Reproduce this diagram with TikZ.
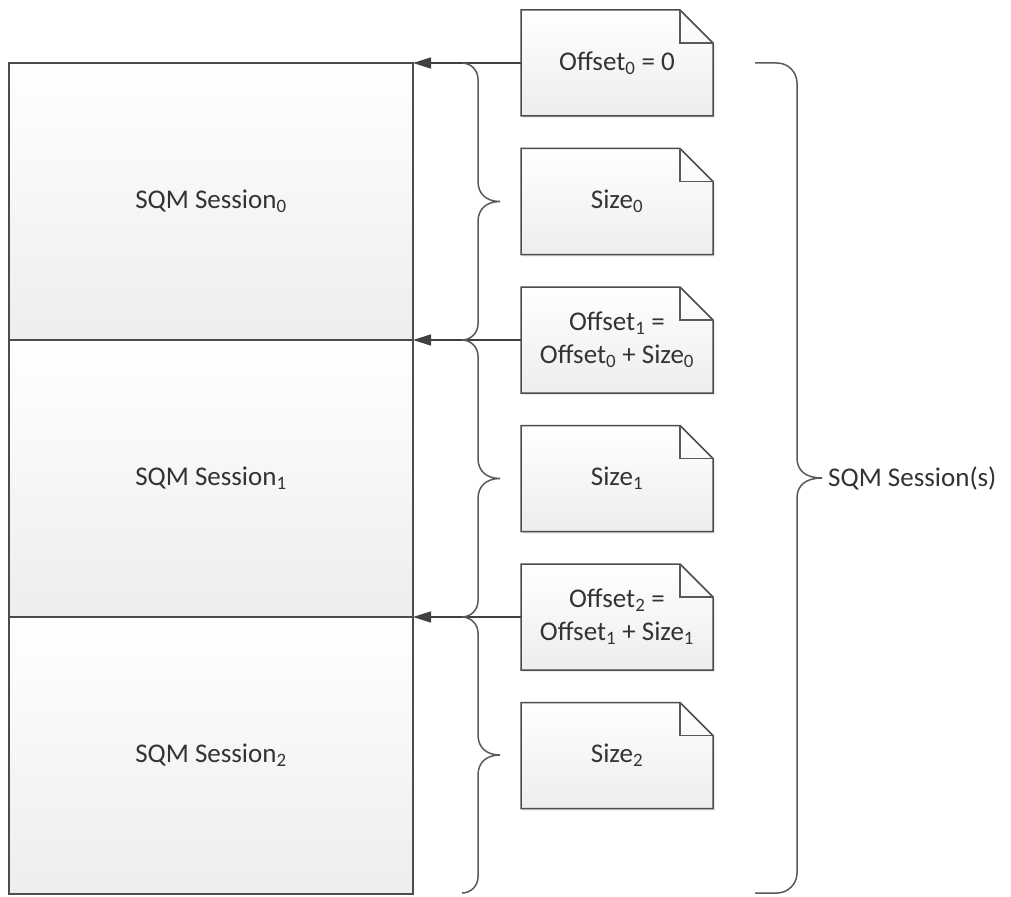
\documentclass[tikz,border=0pt]{standalone}
\usepackage{fontspec}
\setmainfont{Carlito}
\usetikzlibrary{positioning, arrows.meta, backgrounds, shadows}

% curly brace: start x, stem x, tip x, top y, bottom y, corner radius
\newcommand{\sqmbrace}[6]{%
  \pgfmathsetmacro{\bmid}{(#4+#5)/2}%
  \draw[brace] (#1,#4) -- ({#2-#6},#4)
    .. controls ({#2-0.45*#6},#4) and (#2,{#4+0.45*#6}) .. (#2,{#4+#6})
    -- (#2,{\bmid-20})
    .. controls (#2,{\bmid-8}) and ({#2+8},\bmid) .. (#3,\bmid)
    .. controls ({#2+8},\bmid) and (#2,{\bmid+8}) .. (#2,{\bmid+20})
    -- (#2,{#5-#6})
    .. controls (#2,{#5-0.45*#6}) and ({#2-0.45*#6},#5) .. ({#2-#6},#5)
    -- (#1,#5);}

\begin{document}
\begin{tikzpicture}[
  x=1pt, y=-1pt,
  every node/.style={font=\fontsize{27}{33}\selectfont, text=black!80},
  session/.style={draw=black!70, line width=1.5pt, outer sep=0pt, minimum width=404pt, minimum height=277pt, top color=white, bottom color=black!7},
  note/.style={minimum width=192pt, minimum height=106pt, align=center, inner sep=0pt, outer sep=0pt},
  notebody/.style={draw=black!70, line width=1.5pt, top color=white, bottom color=black!7, drop shadow={shadow xshift=2pt, shadow yshift=-2pt, opacity=.15}},
  arrow/.style={-{Triangle[length=18pt,width=11pt]}, draw=black!75, line width=1.5pt},
  brace/.style={draw=black!65, line width=1.5pt}
]
\useasboundingbox (0,0) rectangle (1011,896);

% Sessions
\node[session] (s0) at (211,201.5) {SQM Session\textsubscript{0}};
\node[session, below=0pt of s0] (s1) {SQM Session\textsubscript{1}};
\node[session, below=0pt of s1] (s2) {SQM Session\textsubscript{2}};

% Notes
\node[note, right=108pt of s0.north east] (o0) {Offset\textsubscript{0} = 0};
\node[note, right=108pt of s0.east] (z0) {Size\textsubscript{0}};
\node[note, right=108pt of s1.north east] (o1) {Offset\textsubscript{1} =\\Offset\textsubscript{0} + Size\textsubscript{0}};
\node[note, right=108pt of s1.east] (z1) {Size\textsubscript{1}};
\node[note, right=108pt of s2.north east] (o2) {Offset\textsubscript{2} =\\Offset\textsubscript{1} + Size\textsubscript{1}};
\node[note, right=108pt of s2.east] (z2) {Size\textsubscript{2}};

\begin{scope}[on background layer]
\foreach \n in {o0,z0,o1,z1,o2,z2} {
  \draw[notebody] (\n.north west) -- ([xshift=-33pt]\n.north east) -- ([yshift=-33pt]\n.north east) -- (\n.south east) -- (\n.south west) -- cycle;
  \draw[brace] ([xshift=-33pt]\n.north east) |- ([yshift=-33pt]\n.north east);
}
\end{scope}

% Arrows
\draw[arrow] (o0.west) -- (s0.north east);
\draw[arrow] (o1.west) -- (s1.north east);
\draw[arrow] (o2.west) -- (s2.north east);

% Braces
\sqmbrace{462}{478}{500}{63}{340}{16}
\sqmbrace{462}{478}{500}{340}{617}{16}
\sqmbrace{462}{478}{500}{617}{893}{16}
\sqmbrace{755}{797}{822}{63}{893}{20}

% Label
\coordinate (tip) at (822,478);
\node[right=6pt of tip, inner sep=0pt] (all) {SQM Session(s)};

\end{tikzpicture}
\end{document}
